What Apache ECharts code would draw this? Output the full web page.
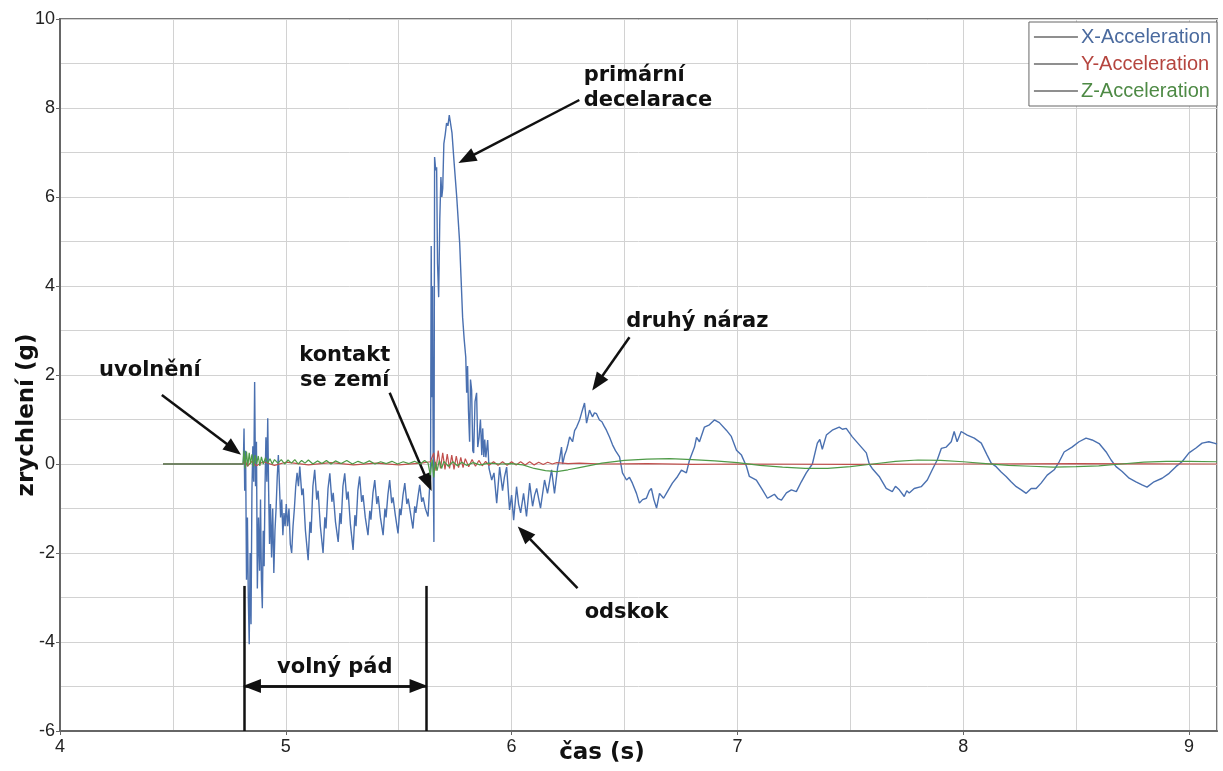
<!DOCTYPE html>
<html>
<head>
<meta charset="utf-8">
<script src="https://cdn.jsdelivr.net/npm/echarts@6/dist/echarts.min.js"></script>
<style>html,body{margin:0;padding:0;background:#fff}#c{width:1223px;height:771px}</style>
</head>
<body>
<div id="c"></div>
<script>
// ---- data (time in s, acceleration in g) ----
var seriesNames = ['X-Acceleration', 'Y-Acceleration', 'Z-Acceleration'];

var xAcc = [
[4.456,0],[4.812,0],[4.815,0.8],[4.818,-0.6],[4.822,0.3],[4.826,-2.6],[4.83,-1.2],[4.834,-3.0],[4.838,-4.05],[4.842,-2.0],[4.846,-3.6],[4.85,-0.6],[4.854,0.4],[4.858,-0.4],[4.862,1.84],[4.866,-0.5],[4.87,0.5],[4.874,-2.8],[4.879,-1.2],[4.884,-2.4],[4.888,-0.8],[4.892,-2.6],[4.896,-3.24],[4.9,-1.5],[4.904,-2.3],[4.908,-0.5],[4.912,0.6],[4.916,-0.4],[4.92,1.03],[4.924,-0.6],[4.928,-1.8],[4.932,-0.9],[4.937,-2.1],[4.942,-1.0],[4.947,-2.45],[4.952,-1.5],[4.957,-1.0],[4.962,-0.3],[4.967,0.2],[4.972,-0.5],[4.977,-1.2],[4.982,-0.8],[4.987,-1.6],[4.992,-1.1],[4.997,-1.4],[5.002,-0.9],[5.008,-1.4],[5.014,-1.0],[5.02,-1.8],[5.026,-2.0],[5.032,-1.4],[5.038,-1.0],[5.044,-0.5],[5.05,-0.2],[5.056,-0.5],
[5.062,-0.06],[5.071,-0.7],[5.077,-0.55],[5.087,-1.5],[5.099,-2.16],[5.107,-1.3],[5.112,-1.55],[5.12,-0.5],
[5.128,-0.13],[5.137,-0.8],[5.143,-0.6],[5.153,-1.4],[5.165,-2.0],[5.173,-1.2],[5.178,-1.45],[5.187,-0.55],
[5.195,-0.21],[5.204,-0.85],[5.21,-0.65],[5.22,-1.3],[5.232,-1.75],[5.24,-1.1],[5.245,-1.35],[5.253,-0.5],
[5.261,-0.21],[5.27,-0.8],[5.276,-0.62],[5.286,-1.35],[5.298,-1.93],[5.306,-1.15],[5.311,-1.4],[5.319,-0.6],
[5.327,-0.28],[5.336,-0.85],[5.342,-0.7],[5.352,-1.2],[5.364,-1.6],[5.372,-1.05],[5.377,-1.25],[5.386,-0.65],
[5.394,-0.36],[5.403,-0.9],[5.409,-0.72],[5.419,-1.2],[5.431,-1.6],[5.439,-1.0],[5.444,-1.2],[5.452,-0.7],
[5.46,-0.36],[5.469,-0.88],[5.475,-0.75],[5.485,-1.15],[5.497,-1.56],[5.505,-1.0],[5.51,-1.15],[5.519,-0.7],
[5.527,-0.43],[5.536,-0.9],[5.542,-0.78],[5.552,-1.1],[5.563,-1.45],[5.571,-0.95],[5.576,-1.1],[5.585,-0.75],
[5.593,-0.47],[5.602,-0.85],[5.608,-0.75],[5.618,-1.0],[5.63,-1.18],[5.636,-0.6],
[5.641,-0.3],[5.644,4.9],[5.647,1.5],[5.65,4.0],[5.653,-0.2],[5.656,-1.75],[5.659,6.9],[5.664,6.6],[5.668,6.67],[5.672,4.5],[5.677,3.75],[5.682,5.5],[5.687,6.45],[5.691,6.0],[5.695,6.2],[5.7,7.2],[5.706,7.4],[5.712,7.66],[5.718,7.6],[5.724,7.84],[5.73,7.8],[5.736,7.44],[5.745,6.8],[5.757,6.0],[5.77,4.97],[5.776,4.2],[5.783,3.3],[5.79,2.8],[5.797,2.4],[5.801,1.6],[5.805,2.2],[5.809,1.2],[5.814,0.5],[5.818,1.9],[5.823,1.66],[5.828,0.3],[5.832,0.25],[5.838,1.4],[5.845,1.6],[5.85,0.38],[5.856,0.6],[5.862,1.0],[5.868,0.2],[5.872,0.8],[5.877,0.16],[5.881,0.55],[5.886,0.15],[5.894,0.54],[5.9,-0.1],
[5.912,-0.36],[5.922,-0.2],[5.934,-0.88],[5.947,-0.07],[5.96,-0.6],[5.968,-0.3],[5.978,-0.07],[5.991,-1.03],[6.0,-0.7],[6.009,-1.26],[6.022,-0.51],[6.031,-0.9],[6.04,-1.1],[6.053,-0.66],[6.066,-1.18],[6.08,-0.43],[6.093,-0.95],[6.102,-0.7],[6.111,-0.55],[6.128,-0.99],[6.146,-0.36],[6.159,-0.66],[6.177,-0.13],[6.19,-0.66],[6.204,-0.07],[6.212,0.1],[6.221,0.38],[6.226,0.0],[6.235,0.2],[6.243,0.31],[6.25,0.45],[6.257,0.61],[6.27,0.5],[6.279,0.75],[6.288,0.83],[6.301,0.99],[6.31,1.15],[6.323,1.37],[6.332,0.92],[6.345,1.21],[6.358,1.06],[6.367,1.15],[6.376,1.13],[6.389,0.99],[6.4,0.95],[6.41,0.85],[6.42,0.76],[6.434,0.6],[6.447,0.43],[6.46,0.3],[6.478,0.16],[6.491,-0.2],[6.509,-0.36],[6.522,-0.3],[6.535,-0.43],[6.553,-0.66],[6.566,-0.88],[6.58,-0.8],[6.597,-0.77],[6.61,-0.6],[6.619,-0.55],[6.63,-0.8],[6.642,-0.99],[6.655,-0.66],[6.673,-0.77],[6.69,-0.62],[6.712,-0.43],[6.735,-0.28],[6.752,-0.14],[6.774,-0.2],[6.788,0.09],[6.81,0.38],[6.819,0.6],[6.832,0.5],[6.854,0.83],[6.876,0.88],[6.898,0.99],[6.92,0.93],[6.951,0.76],[6.973,0.62],[6.996,0.31],[7.018,0.2],[7.04,-0.05],[7.053,-0.28],[7.084,-0.36],[7.111,-0.58],[7.133,-0.77],[7.15,-0.72],[7.164,-0.68],[7.18,-0.78],[7.195,-0.81],[7.217,-0.65],[7.239,-0.58],[7.261,-0.62],[7.283,-0.4],[7.305,-0.2],[7.332,0.0],[7.354,0.47],[7.365,0.55],[7.376,0.33],[7.394,0.65],[7.42,0.76],[7.451,0.83],[7.465,0.78],[7.482,0.8],[7.509,0.61],[7.54,0.43],[7.571,0.25],[7.584,0.0],[7.597,-0.1],[7.628,-0.28],[7.659,-0.55],[7.686,-0.62],[7.7,-0.5],[7.717,-0.58],[7.739,-0.73],[7.75,-0.6],[7.761,-0.65],[7.783,-0.55],[7.814,-0.51],[7.841,-0.36],[7.863,-0.13],[7.885,0.09],[7.903,0.35],[7.925,0.38],[7.947,0.5],[7.96,0.73],[7.973,0.5],[7.991,0.73],[8.018,0.65],[8.049,0.58],[8.08,0.47],[8.106,0.2],[8.124,0.02],[8.146,-0.06],[8.168,-0.18],[8.19,-0.28],[8.212,-0.4],[8.235,-0.51],[8.257,-0.58],[8.279,-0.66],[8.301,-0.55],[8.323,-0.55],[8.345,-0.43],[8.372,-0.25],[8.403,-0.13],[8.425,0.05],[8.447,0.27],[8.482,0.38],[8.513,0.5],[8.544,0.58],[8.571,0.54],[8.602,0.46],[8.633,0.27],[8.655,0.09],[8.677,-0.06],[8.704,-0.17],[8.735,-0.32],[8.765,-0.4],[8.792,-0.47],[8.814,-0.52],[8.845,-0.4],[8.881,-0.32],[8.912,-0.21],[8.942,-0.06],[8.969,0.05],[9.0,0.25],[9.031,0.36],[9.058,0.47],[9.088,0.5],[9.111,0.47],[9.124,0.45]
];

var yAcc = [
[4.456,0],[4.81,0],[4.82,0.08],[4.83,-0.05],[4.85,0.06],[4.87,-0.04],[4.9,0.05],[4.95,-0.03],[5.0,0.04],[5.1,-0.02],[5.2,0.03],[5.3,-0.02],[5.4,0.02],[5.5,-0.02],[5.6,0.02],[5.64,0.05],[5.655,0.25],[5.665,-0.15],[5.675,0.3],[5.685,-0.1],[5.695,0.25],[5.705,-0.12],[5.715,0.22],[5.725,-0.1],[5.735,0.2],[5.745,-0.12],[5.755,0.18],[5.765,-0.08],[5.775,0.15],[5.785,-0.08],[5.795,0.12],[5.81,-0.06],[5.825,0.1],[5.84,-0.05],[5.855,0.08],[5.87,-0.04],[5.885,0.06],[5.9,-0.03],[5.92,0.05],[5.94,-0.03],[5.96,0.05],[5.98,-0.03],[6.0,0.05],[6.02,-0.02],[6.04,0.05],[6.06,-0.02],[6.08,0.05],[6.1,-0.02],[6.12,0.04],[6.14,-0.01],[6.16,0.04],[6.18,0.0],[6.2,0.03],[6.25,0.01],[6.3,0.02],[6.4,0.0],[6.6,0.01],[6.8,-0.01],[7.0,0.0],[7.5,-0.01],[8.0,0.0],[8.5,0.01],[9.124,0.0]
];

var zAcc = [
[4.456,0],[4.81,0],[4.815,0.3],[4.82,-0.1],[4.826,0.28],[4.832,-0.05],[4.838,0.25],[4.844,0.0],[4.85,0.22],[4.857,-0.06],[4.864,0.2],[4.871,0.0],[4.878,0.18],[4.885,-0.04],[4.892,0.16],[4.9,0.0],[4.91,0.14],[4.92,0.02],[4.93,0.12],[4.94,0.0],[4.95,0.1],[4.965,0.02],[4.98,0.1],[4.995,0.0],[5.01,0.09],[5.025,0.02],[5.04,0.1],[5.055,0.0],[5.07,0.08],[5.085,0.02],[5.1,0.09],[5.12,0.0],[5.14,0.07],[5.16,0.01],[5.18,0.08],[5.2,0.0],[5.22,0.07],[5.245,0.01],[5.27,0.08],[5.295,0.0],[5.32,0.06],[5.345,0.01],[5.37,0.07],[5.395,0.0],[5.42,0.05],[5.445,0.01],[5.47,0.06],[5.495,0.0],[5.52,0.05],[5.545,0.01],[5.57,0.06],[5.595,0.0],[5.615,0.08],[5.63,0.02],[5.64,-0.25],[5.648,0.1],[5.655,-0.3],[5.662,0.05],[5.67,-0.15],[5.68,0.08],[5.69,-0.1],[5.7,0.06],[5.72,-0.05],[5.74,0.05],[5.76,-0.04],[5.78,0.04],[5.8,-0.03],[5.83,0.03],[5.86,-0.02],[5.9,0.02],[5.95,0.0],[6.0,0.01],[6.05,-0.02],[6.1,-0.1],[6.15,-0.15],[6.2,-0.17],[6.25,-0.13],[6.3,-0.08],[6.35,-0.03],[6.4,0.02],[6.5,0.08],[6.6,0.11],[6.7,0.12],[6.8,0.1],[6.9,0.07],[7.0,0.03],[7.1,-0.03],[7.2,-0.07],[7.3,-0.1],[7.4,-0.1],[7.5,-0.06],[7.6,0.0],[7.7,0.06],[7.8,0.09],[7.9,0.08],[8.0,0.05],[8.1,0.01],[8.2,-0.03],[8.3,-0.05],[8.4,-0.07],[8.5,-0.06],[8.6,-0.04],[8.7,0.0],[8.8,0.04],[8.9,0.06],[9.0,0.06],[9.124,0.05]
];

// annotation texts, anchored in data coordinates [t, g]
var annotTexts = ['uvolnění', 'kontakt\nse zemí', 'primární\ndecelarace', 'druhý náraz', 'odskok', 'volný pád'];
var annotAnchors = [[4.398, 2.11], [5.261, 2.16], [6.319, 8.45], [6.823, 3.19], [6.509, -3.33], [5.217, -4.58]];
// arrows: [from, to] in data coordinates
var arrowFrom = [[4.451, 1.55], [5.46, 1.6], [6.30, 8.18], [6.522, 2.85], [6.292, -2.79]];
var arrowTo   = [[4.77, 0.33], [5.63, -0.42], [5.80, 6.86], [6.38, 1.82], [6.055, -1.55]];
// free fall interval markers
var freeFallStart = 4.814, freeFallEnd = 5.624, freeFallTop = -2.74, freeFallArrowY = -4.99;
var freeFallArrowInset = 0.036;

var xTicks = { min: 4, max: 9.124, step: 1 };
var yTicks = { min: -6, max: 10, step: 2 };

var colors = ['#4a70b0', '#c0504d', '#4e9a47'];
var textColors = ['#4a6a9e', '#b5453f', '#4e8a45'];

var chart = echarts.init(document.getElementById('c'), null, { renderer: 'canvas' });

var lineSegs = [];
for (var i = 0; i < arrowFrom.length; i++) {
  lineSegs.push([{ coord: arrowFrom[i], symbol: 'none' }, { coord: arrowTo[i], symbol: 'triangle' }]);
}
lineSegs.push([{ coord: [freeFallStart + freeFallArrowInset, freeFallArrowY], symbol: 'triangle' }, { coord: [freeFallEnd - freeFallArrowInset, freeFallArrowY], symbol: 'triangle' }]);
lineSegs.push([{ coord: [freeFallStart, freeFallArrowY], symbol: 'none' }, { coord: [freeFallEnd, freeFallArrowY], symbol: 'none' }]);
lineSegs.push([{ coord: [freeFallStart, freeFallTop], symbol: 'none' }, { coord: [freeFallStart, yTicks.min], symbol: 'none' }]);
lineSegs.push([{ coord: [freeFallEnd, freeFallTop], symbol: 'none' }, { coord: [freeFallEnd, yTicks.min], symbol: 'none' }]);

var annotData = annotTexts.map(function (t, i) {
  var item = { value: [annotAnchors[i][0], annotAnchors[i][1], t] };
  if (i === 2) item.label = { align: 'left' };
  return item;
});

var boldFont = 'DejaVu Sans';
var plainFont = 'Liberation Sans, Arial, sans-serif';
var gridLine = { show: true, lineStyle: { color: '#d2d2d2', width: 1 } };

chart.setOption({
  animation: false,
  backgroundColor: '#ffffff',
  grid: { left: 60, right: 6, top: 19, bottom: 40, show: true, borderColor: '#777', borderWidth: 2, backgroundColor: 'transparent' },
  legend: {
    orient: 'vertical', right: 6, top: 22,
    backgroundColor: '#ffffff', borderColor: '#666', borderWidth: 1, borderRadius: 0,
    padding: [5, 6, 5, 5], itemGap: 7, itemWidth: 44, itemHeight: 1.5, icon: 'rect',
    textStyle: { fontSize: 20, fontFamily: plainFont, padding: [0, 0, 0, -2] },
    data: seriesNames.map(function (n, i) {
      return { name: n, itemStyle: { color: '#6a6a6a' }, textStyle: { color: textColors[i] } };
    })
  },
  xAxis: {
    type: 'value', min: xTicks.min, max: xTicks.max, interval: xTicks.step,
    axisLine: { show: true, onZero: false, lineStyle: { color: '#666', width: 2 } },
    axisTick: { show: true, length: 4, lineStyle: { color: '#666' } },
    minorTick: { show: false, splitNumber: 2 },
    minorSplitLine: gridLine,
    axisLabel: {
      margin: 7, fontSize: 18, color: '#222', fontFamily: plainFont, showMaxLabel: false,
      formatter: function (v) { return Math.abs(v - Math.round(v)) < 1e-6 ? String(Math.round(v)) : ''; }
    },
    splitLine: gridLine
  },
  yAxis: {
    type: 'value', min: yTicks.min, max: yTicks.max, interval: yTicks.step,
    axisLine: { show: true, onZero: false, lineStyle: { color: '#666', width: 2 } },
    axisTick: { show: true, length: 4, lineStyle: { color: '#666' } },
    minorTick: { show: false, splitNumber: 2 },
    minorSplitLine: gridLine,
    axisLabel: { margin: 5, fontSize: 18, color: '#222', fontFamily: plainFont },
    splitLine: gridLine
  },
  series: [
    { name: seriesNames[0], type: 'line', data: xAcc, showSymbol: false, symbol: 'none', lineStyle: { color: colors[0], width: 1.4 }, itemStyle: { color: colors[0] }, z: 3 },
    { name: seriesNames[1], type: 'line', data: yAcc, showSymbol: false, symbol: 'none', lineStyle: { color: colors[1], width: 1.2 }, itemStyle: { color: colors[1] }, z: 4 },
    { name: seriesNames[2], type: 'line', data: zAcc, showSymbol: false, symbol: 'none', lineStyle: { color: colors[2], width: 1.2 }, itemStyle: { color: colors[2] }, z: 5 },
    {
      name: 'annot', type: 'scatter', data: annotData, symbolSize: 0, z: 10, silent: true,
      itemStyle: { opacity: 1 },
      label: {
        show: true, position: 'inside', align: 'center', verticalAlign: 'middle',
        formatter: function (p) { return p.value[2]; },
        fontFamily: boldFont, fontWeight: 'bold', fontSize: 21, lineHeight: 25, color: '#111', opacity: 1
      },
      markLine: {
        silent: true, animation: false, symbolSize: [14, 18],
        label: { show: false },
        lineStyle: { color: '#111', width: 2.5, type: 'solid', opacity: 1 },
        data: lineSegs
      }
    }
  ],
  graphic: [
    { type: 'text', rotation: Math.PI / 2, x: 27, y: 415, style: { text: 'zrychlení (g)', font: 'bold 23px "DejaVu Sans"', fill: '#111', textAlign: 'center', textVerticalAlign: 'middle' } },
    { type: 'text', x: 602, y: 753, style: { text: 'čas (s)', font: 'bold 23px "DejaVu Sans"', fill: '#111', textAlign: 'center', textVerticalAlign: 'middle' } }
  ]
});
</script>
</body>
</html>
